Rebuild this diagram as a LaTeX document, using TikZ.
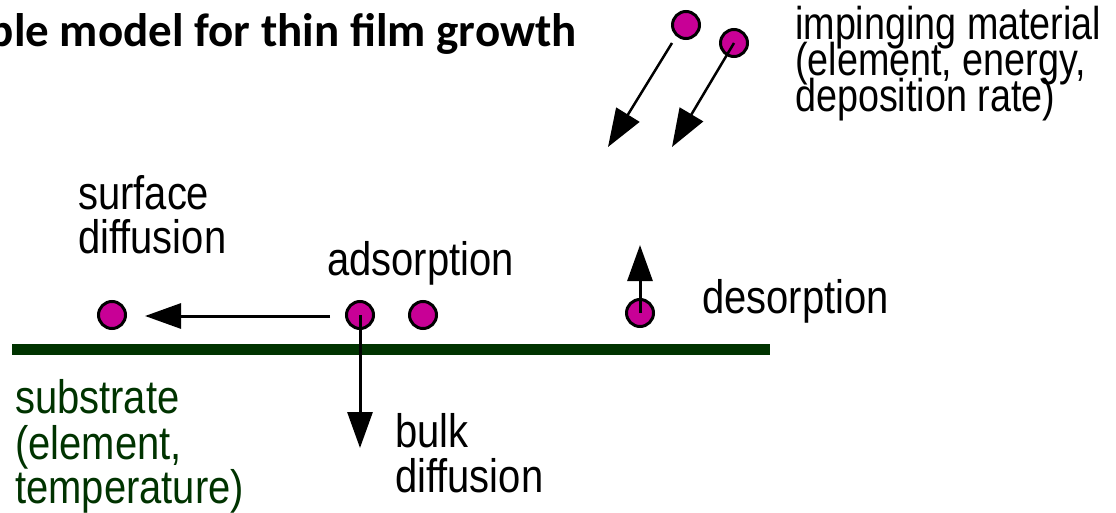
\documentclass[tikz,border=0pt]{standalone}
\usepackage{fontspec}
\usetikzlibrary{arrows.meta}
\newfontfamily\pix[FakeStretch=0.85]{Liberation Sans}
\newfontfamily\pixn[FakeStretch=0.82]{Liberation Sans}
\newfontfamily\titlefont{Carlito}
\definecolor{atomc}{RGB}{200,0,150}
\definecolor{subst}{RGB}{0,51,0}
\tikzset{
  atom/.style={circle, draw=black, line width=3pt, fill=atomc, minimum size=27pt, inner sep=0pt},
  lbl/.style={anchor=base west, inner sep=0pt, font=\pix\fontsize{47}{47}\selectfont},
  lbln/.style={anchor=base west, inner sep=0pt, font=\pixn\fontsize{46}{46}\selectfont},
  arr/.style={line width=3pt, -{Triangle[length=36pt,width=25pt]}},
  thinarr/.style={line width=2.5pt, -{Triangle[length=38pt,width=27pt]}},
}
\begin{document}
\begin{tikzpicture}[x=1pt,y=-1pt]
\useasboundingbox (0,0) rectangle (1116,513);
\fill[white] (0,0) rectangle (1116,513);
\begin{scope}
\clip (0,0) rectangle (1116,513);
% title
\node[anchor=base east, inner sep=0pt, font=\titlefont\bfseries\fontsize{47}{47}\selectfont] (title) at (577,47) {Simple model for thin film growth};
% substrate
\draw[subst, line width=11pt] (12,349) coordinate (s1) -- (770,349) coordinate (s2);
% atoms
\node[atom] (a1) at (112,315) {};
\node[atom] (a2) at (360,315) {};
\node[atom] (a3) at (423,315) {};
\node[atom] (a4) at (640,313) {};
\node[atom] (t1) at (686,25) {};
\node[atom] (t2) at (734,43) {};
% arrows
\coordinate (hs) at (330,316);
\coordinate (ht) at (145,316);
\draw[arr] (hs) -- (ht);
\coordinate (bt) at (360,448);
\draw[arr] (a2.center) -- (bt);
\coordinate (dt) at (640,245);
\draw[arr] (a4.center) -- (dt);
\coordinate (i1s) at (672,43);
\coordinate (i1t) at (608,147);
\draw[thinarr] (i1s) -- (i1t);
\coordinate (i2t) at (672,147);
\draw[thinarr] (t2.center) -- (i2t);
% labels
\node[lbln] (imp1) at (795,40) {impinging material};
\node[lbln] (imp2) at (795,76) {(element, energy,};
\node[lbln] (imp3) at (795,112) {deposition rate)};
\node[lbl] (sd1) at (78,210) {surface};
\node[lbl] (sd2) at (78,253) {diffusion};
\node[lbl] (ads) at (327,275) {adsorption};
\node[lbl] (des) at (702,313) {desorption};
\node[lbl, subst] (sub1) at (15,413) {substrate};
\node[lbl, subst] (sub2) at (15,459) {(element,};
\node[lbl, subst] (sub3) at (15,503) {temperature)};
\node[lbl] (bd1) at (395,447) {bulk};
\node[lbl] (bd2) at (395,492) {diffusion};
\end{scope}
\end{tikzpicture}
\end{document}
